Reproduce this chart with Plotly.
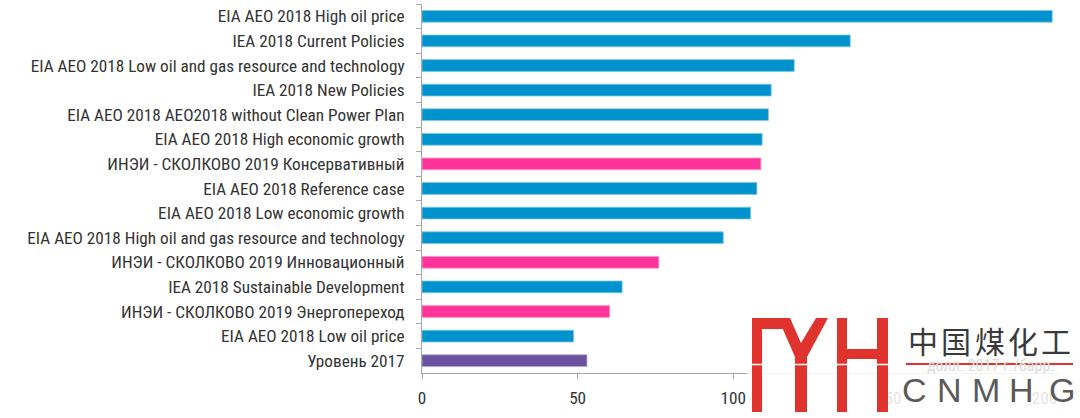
import plotly.graph_objects as go

categories = [
    "EIA AEO 2018 High oil price",
    "IEA 2018 Current Policies",
    "EIA AEO 2018 Low oil and gas resource and technology",
    "IEA 2018 New Policies",
    "EIA AEO 2018 AEO2018 without Clean Power Plan",
    "EIA AEO 2018 High economic growth",
    "ИНЭИ - СКОЛКОВО 2019 Консервативный",
    "EIA AEO 2018 Reference case",
    "EIA AEO 2018 Low economic growth",
    "EIA AEO 2018 High oil and gas resource and technology",
    "ИНЭИ - СКОЛКОВО 2019 Инновационный",
    "IEA 2018 Sustainable Development",
    "ИНЭИ - СКОЛКОВО 2019 Энергопереход",
    "EIA AEO 2018 Low oil price",
    "Уровень 2017",
]
values = [202.5, 137.6, 119.6, 112.2, 111.3, 109.3, 108.9, 107.6, 105.6, 96.8, 76.1, 64.3, 60.3, 48.7, 53.0]
groups = ["EIA", "IEA", "EIA", "IEA", "EIA", "EIA", "INEI", "EIA", "EIA", "EIA", "INEI", "IEA", "INEI", "EIA", "BASE"]
x_ticks = [0, 50, 100, 150, 200]
x_title = "долл. 2017 г./барр."

group_colors = {"EIA": "#0092CC", "IEA": "#0092CC", "INEI": "#FF3399", "BASE": "#6A529F"}
group_edges = {"EIA": "#7FC6E6", "IEA": "#7FC6E6", "INEI": "#FF9ACC", "BASE": "#B3A6CF"}

W, H = 1080, 418
L, R, T, B = 422, 20, 4, 45
PW, PH = W - L - R, H - T - B


def px(x):
    return (x - L) / PW


def py(y):
    return (H - B - y) / PH


fig = go.Figure(go.Bar(
    y=categories,
    x=values,
    orientation="h",
    marker=dict(
        color=[group_colors[g] for g in groups],
        line=dict(color=[group_edges[g] for g in groups], width=0.8),
    ),
    hoverinfo="skip",
))

FONT = "Liberation Sans Narrow, Roboto Condensed, DejaVu Sans Condensed, sans-serif"

fig.update_layout(
    width=W, height=H,
    margin=dict(l=L, r=R, t=T, b=B, pad=0),
    paper_bgcolor="white", plot_bgcolor="white",
    bargap=0.52,
    showlegend=False,
    hovermode=False,
    font=dict(family=FONT, size=17.2, color="#333333"),
)
fig.update_yaxes(
    autorange="reversed",
    showline=True, linecolor="#A6A6A6", linewidth=1,
    ticks="outside", tickson="boundaries", ticklen=5, tickcolor="#A6A6A6",
    showgrid=False, ticklabelstandoff=13, fixedrange=True,
)
fig.update_xaxes(
    range=[0, 205],
    tickvals=x_ticks,
    showline=True, linecolor="#A6A6A6", linewidth=1,
    ticks="outside", ticklen=5, tickcolor="#A6A6A6",
    showgrid=False, zeroline=False, ticklabelstandoff=4, fixedrange=True,
)

# faint axis unit (sits under the watermark)
fig.add_annotation(
    x=px(1057), y=py(365), xref="paper", yref="paper",
    text=x_title, showarrow=False, xanchor="right", yanchor="middle",
    font=dict(family=FONT, size=16, color="#DCDCDC"),
)

# --- watermark ---
RED = "#E0332E"
shapes = []
shapes.append(dict(type="rect", xref="paper", yref="paper", layer="above",
                   x0=px(747), x1=px(1080), y0=py(418), y1=py(312),
                   fillcolor="rgba(255,255,255,0.86)", line=dict(width=0)))


def rect(x0, x1, y0, y1):
    shapes.append(dict(type="rect", xref="paper", yref="paper", layer="above",
                       x0=px(x0), x1=px(x1), y0=py(y1), y1=py(y0),
                       fillcolor=RED, line=dict(width=0)))


rect(752, 762, 318, 412)
rect(752, 790, 318, 329)
rect(837, 847, 318, 412)
rect(877, 888, 318, 412)
rect(837, 888, 349, 359)
pts = [(778, 318), (790, 318), (801, 343), (816, 318), (828, 318), (807, 357),
       (807, 412), (795, 412), (795, 357)]
path = "M " + " L ".join(f"{px(a):.5f},{py(b):.5f}" for a, b in pts) + " Z"
shapes.append(dict(type="path", xref="paper", yref="paper", layer="above",
                   path=path, fillcolor=RED, line=dict(width=0)))
shapes.append(dict(type="line", xref="paper", yref="paper", layer="above",
                   x0=px(750), x1=px(890), y0=py(364.5), y1=py(364.5),
                   line=dict(color="white", width=1.5)))
shapes.append(dict(type="line", xref="paper", yref="paper", layer="above",
                   x0=px(906), x1=px(1073), y0=py(364), y1=py(364),
                   line=dict(color=RED, width=2)))
fig.update_layout(shapes=shapes)

for i, ch in enumerate("中国煤化工"):
    fig.add_annotation(x=px(922.7 + i * 33.4), y=py(340), xref="paper", yref="paper",
                       text=ch, showarrow=False, xanchor="center", yanchor="middle",
                       font=dict(family="Noto Sans CJK SC", size=30, color="#3A3A3A"))
for cx, ch in zip([914, 949, 986, 1021.5, 1061.5], "CNMHG"):
    fig.add_annotation(x=px(cx), y=py(390), xref="paper", yref="paper",
                       text=ch, showarrow=False, xanchor="center", yanchor="middle",
                       font=dict(family="Liberation Sans", size=34, color="#5A5A5A"))

fig.write_html("out.html", config={"displayModeBar": False, "staticPlot": True},
               post_script="document.body.style.margin='0';")
